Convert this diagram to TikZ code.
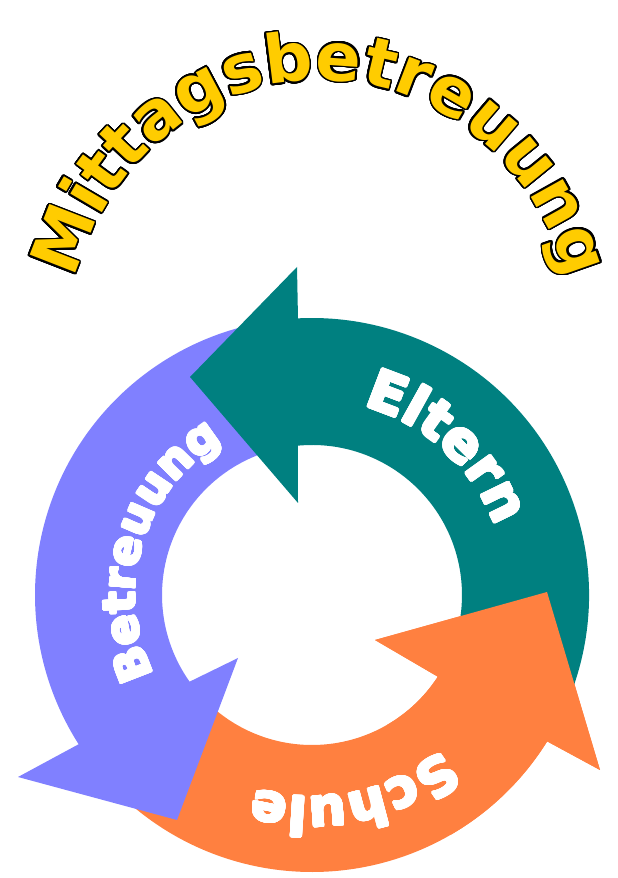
\documentclass[tikz,border=0pt]{standalone}
\usepackage{fontspec}
\usepackage{contour}
\usetikzlibrary{calc,decorations.text}
\newfontfamily\titelfont{DejaVu Sans Bold}
\newfontfamily\pfeilfont{DejaVu Sans Bold}
\definecolor{elterngruen}{RGB}{0,128,128}
\definecolor{betreuungblau}{RGB}{128,128,255}
\definecolor{schulorange}{RGB}{255,128,64}
\definecolor{titelgelb}{RGB}{255,204,0}
\contournumber{32}
\newcommand{\umriss}[1]{\contourlength{1.6pt}\contour{black}{\textcolor{titelgelb}{#1}}}
\newcommand{\fett}[1]{\contourlength{1.2pt}\contour{white}{\textcolor{white}{#1}}}

\begin{document}
\begin{tikzpicture}
  [x=1pt,y=1pt,
   beschriftung/.style={decorate,decoration={text effects along path,text align=center,
     text effects/.cd,text along path,character command=\fett}}]
  \useasboundingbox (0,0) rectangle (618,878);
  \coordinate (m) at (312,283);
  \coordinate (t) at (321,526);

  \fill[schulorange] ($(m)+(228:277)$) arc[start angle=228,end angle=328.1,radius=277]
    -- (600,108) -- (547,286) -- (375,238)
    -- ($(m)+(327:150)$) arc[start angle=327,end angle=228,radius=150] -- cycle;
  \fill[betreuungblau] ($(m)+(104:277)$) arc[start angle=104,end angle=212.6,radius=277]
    -- (18,101) -- (177,58) -- (238,220)
    -- ($(m)+(215.3:150)$) arc[start angle=215.3,end angle=104,radius=150] -- cycle;
  \fill[elterngruen] ($(m)+(-25:277)$) arc[start angle=-25,end angle=92.9,radius=277]
    -- (297,611) -- (190,501) -- (298,375)
    -- ($(m)+(95.4:150)$) arc[start angle=95.4,end angle=-25,radius=150] -- cycle;
  \fill[schulorange] ($(m)+(300:277)$) arc[start angle=300,end angle=328.1,radius=277]
    -- (600,108) -- (547,286) -- (375,238)
    -- ($(m)+(327:150)$) arc[start angle=327,end angle=300,radius=150] -- cycle;

  {\pfeilfont\fontsize{55}{55}\selectfont
  \path[beschriftung,decoration={text=Eltern}]
    ($(m)+(87.5:196)$) arc[start angle=87.5,end angle=7.5,radius=196];}
  {\pfeilfont\fontsize{45}{45}\selectfont
  \path[beschriftung,decoration={text=Betreuung}]
    ($(m)+(218.5:177)$) arc[start angle=218.5,end angle=108.5,radius=177];}
  {\pfeilfont\fontsize{53}{53}\selectfont
  \path[beschriftung,decoration={text=Schule}]
    ($(m)+(326.75:202)$) arc[start angle=326.75,end angle=236.75,radius=202];}

  {\titelfont\fontsize{67}{67}\selectfont
  \path[decorate,decoration={text effects along path,text={Mittagsbetreuung},text align=center,
      text effects/.cd,text along path,character command=\umriss}]
    ($(t)+(177.5:255 and 272)$) arc[start angle=177.5,end angle=2.5,x radius=255,y radius=272];}
\end{tikzpicture}
\end{document}
